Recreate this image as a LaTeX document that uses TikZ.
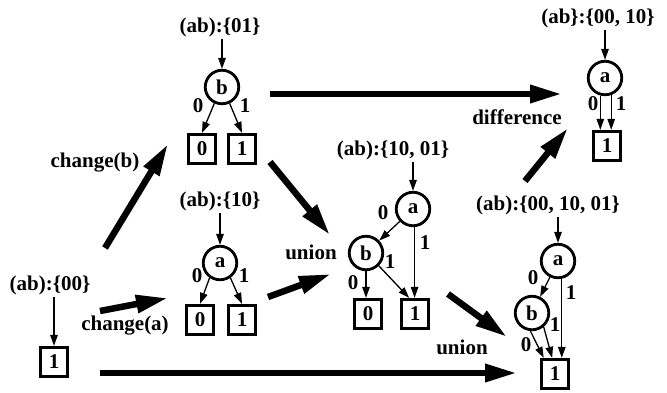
\documentclass[tikz,border=0pt]{standalone}
\usepackage{fontspec}
\setmainfont{Liberation Serif}
\usetikzlibrary{arrows.meta,calc}
\begin{document}
\begin{tikzpicture}[x=1pt,y=-1pt,
  every node/.style={font=\fontsize{21}{23}\selectfont\bfseries},
  vnode/.style={circle,draw,line width=2.8pt,minimum size=33.5pt,inner sep=0pt},
  leaf/.style={rectangle,draw,line width=2.8pt,minimum width=27.5pt,minimum height=29.5pt,inner sep=0pt},
  setlab/.style={inner sep=2pt},
  elab/.style={inner sep=0pt},
  thinarrow/.style={line width=1.3pt,-{Triangle[length=11pt,width=7.5pt]}},
  bigarrow/.style={line width=6.5pt,-{Triangle[length=32pt,width=17pt]}},
]
\useasboundingbox (0,0) rectangle (667,392);

% tree (ab):{01}
\node[setlab] (l1) at (220,27) {(ab):\{01\}};
\node[vnode] (c1) at (222,87) {b};
\node[leaf] (z1) at (202,149) {0};
\node[leaf] (o1) at (242,149) {1};
\draw[thinarrow] (c1.north |- l1.south) -- (c1.north);
\draw[thinarrow] (c1.-115) -- (z1.north);
\draw[thinarrow] (c1.-65) -- (o1.north);
\node[elab] (e1a) at (198,106) {0};
\node[elab] (e1b) at (245,106) {1};

% tree (ab}:{00, 10}
\node[setlab] (l2) at (598,18) {(ab\}:\{00, 10\}};
\node[vnode] (c2) at (605,78) {a};
\node[leaf] (o2) at (607,146) {1};
\draw[thinarrow] (c2.north |- l2.south) -- (c2.north);
\draw[thinarrow] (c2.-105) -- (c2.-105 |- o2.north);
\draw[thinarrow] (c2.-70) -- (c2.-70 |- o2.north);
\node[elab] (e2a) at (593,104) {0};
\node[elab] (e2b) at (621,104) {1};

% tree (ab):{10}
\node[setlab] (l3) at (220,201) {(ab):\{10\}};
\node[vnode] (c3) at (220,263) {a};
\node[leaf] (z3) at (200,320) {0};
\node[leaf] (o3) at (242,320) {1};
\draw[thinarrow] (c3.north |- l3.south) -- (c3.north);
\draw[thinarrow] (c3.-125) -- (z3.north);
\draw[thinarrow] (c3.-55) -- (o3.north);
\node[elab] (e3a) at (197,276) {0};
\node[elab] (e3b) at (244,276) {1};

% tree (ab):{00}
\node[setlab] (l0) at (50,285) {(ab):\{00\}};
\node[leaf] (o0) at (54,362) {1};
\draw[thinarrow] (o0.north |- l0.south) -- (o0.north);

% tree (ab):{10, 01}
\node[setlab] (l4) at (393,150) {(ab):\{10, 01\}};
\node[vnode] (c4a) at (413,209) {a};
\node[vnode] (c4b) at (366,253) {b};
\node[leaf] (z4) at (368,314) {0};
\node[leaf] (o4) at (415,314) {1};
\draw[thinarrow] (c4a.north |- l4.south) -- (c4a.north);
\draw[thinarrow] (c4a) -- (c4b);
\draw[thinarrow] (c4a.-85) -- (c4a.-85 |- o4.north);
\draw[thinarrow] (c4b.south) -- (c4b.south |- z4.north);
\draw[thinarrow] (c4b.-45) -- (o4.110);
\node[elab] (e4a) at (383,213) {0};
\node[elab] (e4b) at (425,243) {1};
\node[elab] (e4c) at (390,262) {1};
\node[elab] (e4d) at (353,283) {0};

% tree (ab):{00, 10, 01}
\node[setlab] (l5) at (548,205) {(ab):\{00, 10, 01\}};
\node[vnode] (c5a) at (558,261) {a};
\node[vnode] (c5b) at (532,313) {b};
\node[leaf] (o5) at (555,374) {1};
\draw[thinarrow] (c5a.north |- l5.south) -- (c5a.north);
\draw[thinarrow] (c5a) -- (c5b);
\draw[thinarrow] (c5a.-78) -- (c5a.-78 |- o5.north);
\draw[thinarrow] (c5b.-95) -- (o5.125);
\draw[thinarrow] (c5b.-50) -- (o5.100);
\node[elab] (e5a) at (533,278) {0};
\node[elab] (e5b) at (571,293) {1};
\node[elab] (e5c) at (555,325) {1};
\node[elab] (e5d) at (526,345) {0};

% operation labels
\node (tcb) at (95,163) {change(b)};
\node (tca) at (125,326) {change(a)};
\node (tu1) at (311,252) {union};
\node (tu2) at (462,347) {union};
\node (tdf) at (517,117) {difference};

% big arrows
\coordinate (a1s) at (270,94);  \coordinate (a1e) at (562,94);
\coordinate (a2s) at (105,248); \coordinate (a2e) at (168,144);
\coordinate (a3s) at (270,162); \coordinate (a3e) at (330,235);
\coordinate (a4s) at (100,311); \coordinate (a4e) at (168,298);
\coordinate (a5s) at (268,297); \coordinate (a5e) at (331,274);
\coordinate (a6s) at (525,181); \coordinate (a6e) at (568,128);
\coordinate (a7s) at (448,294); \coordinate (a7e) at (507,337);
\coordinate (a8s) at (100,373); \coordinate (a8e) at (517,373);
\draw[bigarrow] (a1s) -- (a1e);
\draw[bigarrow] (a2s) -- (a2e);
\draw[bigarrow] (a3s) -- (a3e);
\draw[bigarrow] (a4s) -- (a4e);
\draw[bigarrow] (a5s) -- (a5e);
\draw[bigarrow] (a6s) -- (a6e);
\draw[bigarrow] (a7s) -- (a7e);
\draw[bigarrow] (a8s) -- (a8e);
\end{tikzpicture}
\end{document}
